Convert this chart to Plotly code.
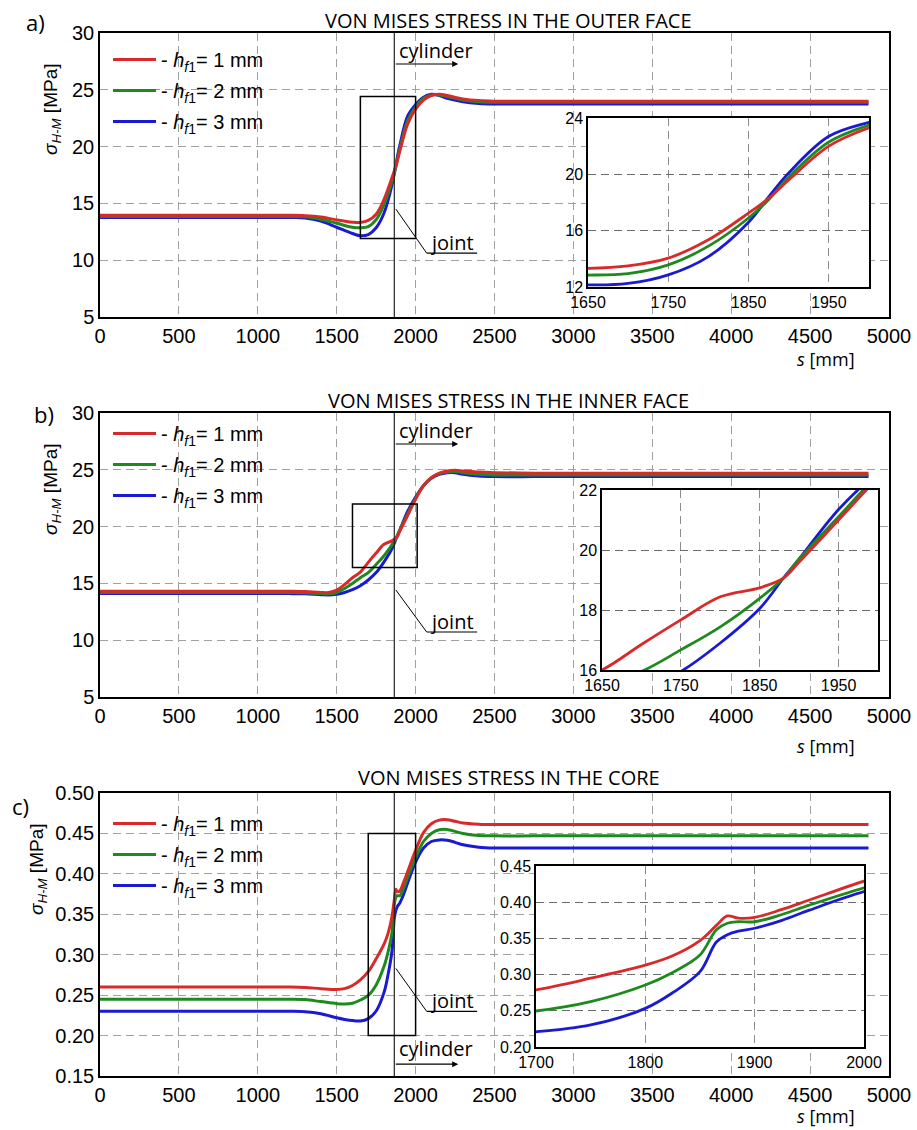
import plotly.graph_objects as go

W, H = 917, 1130

# ---------------- data ----------------
# (a) outer face
S_A = [0, 250, 500, 750, 1000, 1200, 1300, 1400, 1500, 1600, 1650, 1700, 1750, 1800,
       1850, 1875, 1900, 1950, 2000, 2050, 2100, 2150, 2200, 2300, 2400, 2500, 2750,
       3000, 3500, 4000, 4500, 4870]
A_H1 = [13.95, 13.95, 13.95, 13.95, 13.95, 13.95, 13.92, 13.8, 13.55, 13.35, 13.32, 13.5,
        14.05, 15.35, 17.25, 18.3, 19.6, 22.0, 23.3, 24.1, 24.5, 24.6, 24.5, 24.2, 24.05,
        24.0, 24.0, 24.0, 24.0, 24.0, 24.0, 24.0]
A_H2 = [13.85, 13.85, 13.85, 13.85, 13.85, 13.85, 13.82, 13.6, 13.25, 12.9, 12.85, 12.95,
        13.57, 14.9, 16.9, 18.2, 19.8, 22.3, 23.5, 24.25, 24.55, 24.55, 24.4, 24.1, 23.95,
        23.9, 23.9, 23.9, 23.9, 23.9, 23.9, 23.9]
A_H3 = [13.75, 13.75, 13.75, 13.75, 13.75, 13.75, 13.72, 13.45, 12.9, 12.35, 12.15, 12.25,
        12.86, 14.16, 16.6, 18.4, 20.1, 22.7, 23.7, 24.35, 24.6, 24.5, 24.25, 23.95, 23.8,
        23.75, 23.75, 23.75, 23.75, 23.75, 23.75, 23.75]

# (b) inner face
S_B = [0, 250, 500, 750, 1000, 1200, 1300, 1400, 1450, 1500, 1550, 1600, 1650, 1700, 1750,
       1800, 1850, 1880, 1900, 1950, 2000, 2050, 2100, 2150, 2200, 2250, 2300, 2400, 2500,
       2750, 3000, 3500, 4000, 4500, 4870]
B_H1 = [14.3, 14.3, 14.3, 14.3, 14.3, 14.3, 14.28, 14.2, 14.2, 14.4, 14.9, 15.5, 16.0, 16.85,
        17.67, 18.44, 18.74, 19.06, 19.6, 21.0, 22.4, 23.6, 24.3, 24.7, 24.9, 24.95, 24.9,
        24.8, 24.75, 24.7, 24.7, 24.7, 24.7, 24.7, 24.7]
B_H2 = [14.2, 14.2, 14.2, 14.2, 14.2, 14.2, 14.18, 14.1, 14.08, 14.2, 14.55, 15.0, 15.5, 15.95,
        16.67, 17.44, 18.39, 19.06, 19.7, 21.11, 22.5, 23.6, 24.3, 24.65, 24.8, 24.85, 24.75,
        24.6, 24.55, 24.55, 24.55, 24.55, 24.55, 24.55, 24.55]
B_H3 = [14.1, 14.1, 14.1, 14.1, 14.1, 14.1, 14.08, 14.0, 13.98, 14.05, 14.2, 14.45, 14.8, 15.3,
        15.95, 16.9, 18.05, 19.06, 19.7, 21.35, 22.6, 23.6, 24.25, 24.6, 24.75, 24.75, 24.6,
        24.45, 24.4, 24.4, 24.4, 24.4, 24.4, 24.4, 24.4]

# (c) core
S_C = [0, 250, 500, 750, 1000, 1200, 1300, 1400, 1500, 1550, 1600, 1650, 1700, 1750, 1800,
       1825, 1850, 1865, 1875, 1885, 1900, 1925, 1950, 2000, 2050, 2100, 2150, 2200, 2250,
       2300, 2400, 2500, 2750, 3000, 3500, 4000, 4500, 4870]
C_H1 = [0.26, 0.26, 0.26, 0.26, 0.26, 0.26, 0.2595, 0.258, 0.257, 0.258, 0.262, 0.269, 0.279,
        0.295, 0.313, 0.326, 0.347, 0.368, 0.381, 0.378, 0.379, 0.39, 0.403, 0.429, 0.451,
        0.462, 0.4665, 0.467, 0.465, 0.463, 0.4615, 0.461, 0.461, 0.461, 0.461, 0.461, 0.461,
        0.461]
C_H2 = [0.245, 0.245, 0.245, 0.245, 0.245, 0.245, 0.2445, 0.242, 0.2395, 0.239, 0.24, 0.244,
        0.2497, 0.2626, 0.2856, 0.303, 0.327, 0.362, 0.371, 0.373, 0.373, 0.383, 0.396, 0.42,
        0.44, 0.45, 0.4545, 0.455, 0.4525, 0.45, 0.4475, 0.447, 0.447, 0.447, 0.447, 0.447,
        0.447, 0.447]
C_H3 = [0.23, 0.23, 0.23, 0.23, 0.23, 0.23, 0.2295, 0.227, 0.222, 0.22, 0.2185, 0.218, 0.221,
        0.2304, 0.2534, 0.275, 0.304, 0.345, 0.355, 0.36, 0.364, 0.375, 0.389, 0.4146, 0.432,
        0.44, 0.442, 0.4415, 0.439, 0.436, 0.433, 0.432, 0.432, 0.432, 0.432, 0.432, 0.432,
        0.432]

SERIES_NAMES = ["1 mm", "2 mm", "3 mm"]
TITLES = ["VON MISES STRESS IN THE OUTER FACE", "VON MISES STRESS IN THE INNER FACE",
          "VON MISES STRESS IN THE CORE"]
PANEL_LABELS = ["a)", "b)", "c)"]

# zoom windows (inset ranges) and framed regions on the main plots
INSET_X = [[1650, 2000], [1650, 2000], [1700, 2000]]
INSET_Y = [[12, 24], [16, 22], [0.20, 0.45]]
INSET_XTICKS = [[1650, 1750, 1850, 1950], [1650, 1750, 1850, 1950], [1700, 1800, 1900, 2000]]
INSET_YTICKS = [[12, 16, 20, 24], [16, 18, 20, 22], [0.20, 0.25, 0.30, 0.35, 0.40, 0.45]]
FRAME_X = [[1650, 2000], [1600, 2010], [1700, 2000]]
FRAME_Y = [[11.9, 24.4], [16.4, 22.0], [0.20, 0.45]]
MAIN_Y = [[5, 30], [5, 30], [0.15, 0.50]]
MAIN_DTICK = [5, 5, 0.05]

JOINT_S = 1865
CYL_ARROW_END = 2270
CYL_Y = [27.27, 27.27, 0.1646]
CYL_TXT_Y = [28.5, 28.5, 0.184]
JOINT_LEADER_Y = [[14.5, 10.63], [14.42, 10.72], [0.283, 0.230]]
JOINT_LEADER_X = [1875, 2070, 2390]

COLORS = ["#d82a2a", "#1e8a1e", "#1a1ad2"]

# ---------------- layout geometry (pixels) ----------------
MAIN_XPX = [100, 889]
MAIN_YPX = [[33, 317], [413, 697], [793, 1076]]
INSET_XPX = [[588, 869], [602, 878], [536, 864]]
INSET_YPX = [[118, 287], [490, 670], [866, 1047]]
TITLE_YPX = [20, 400, 777]
LABEL_PX = [(35, 22), (44, 414), (20, 806)]
YTITLE_PX = [(52, 110), (52, 490), (38, 870)]
SLABEL_YPX = [359, 746, 1116]
LEGEND_TOP = [40, 414, 804]


def px2x(p):
    return p / W


def px2y(p):
    return 1 - p / H


data_sets = [(S_A, [A_H1, A_H2, A_H3]), (S_B, [B_H1, B_H2, B_H3]), (S_C, [C_H1, C_H2, C_H3])]

fig = go.Figure()
TICKFONT = dict(family="Liberation Sans, Arial, sans-serif", size=20, color="black")
INSETFONT = dict(family="Liberation Sans, Arial, sans-serif", size=16, color="black")
TXTFONT = dict(family="Open Sans, Noto Sans, sans-serif", size=20, color="black")

layout = dict(width=W, height=H, autosize=False, margin=dict(l=0, r=0, t=0, b=0, pad=0),
              paper_bgcolor="white", plot_bgcolor="white", showlegend=True)
shapes = []
annotations = []

for p in range(3):
    s, ys = data_sets[p]
    mi = p + 1          # main axes index
    ii = p + 4          # inset axes index
    mx = "x" if mi == 1 else f"x{mi}"
    my = "y" if mi == 1 else f"y{mi}"
    ix, iy = f"x{ii}", f"y{ii}"
    leg = "legend" if p == 0 else f"legend{p + 1}"

    # draw blue, green, red so that red lies on top
    for k in [2, 1, 0]:
        name = "- <i>h</i><sub><i>f</i>1</sub>= " + SERIES_NAMES[k]
        fig.add_trace(go.Scatter(x=s, y=ys[k], mode="lines", name=name,
                                 line=dict(color=COLORS[k], width=3, shape="spline", smoothing=1.0),
                                 xaxis=mx, yaxis=my, legend=leg, legendgroup=f"{p}{k}",
                                 legendrank=k + 1, showlegend=True, hoverinfo="skip"))
    for k in [2, 1, 0]:
        fig.add_trace(go.Scatter(x=s, y=ys[k], mode="lines",
                                 line=dict(color=COLORS[k], width=2.8, shape="spline", smoothing=1.0),
                                 xaxis=ix, yaxis=iy, showlegend=False, hoverinfo="skip"))

    ydom = [px2y(MAIN_YPX[p][1]), px2y(MAIN_YPX[p][0])]
    xdom = [px2x(MAIN_XPX[0]), px2x(MAIN_XPX[1])]
    layout["xaxis" if mi == 1 else f"xaxis{mi}"] = dict(
        domain=xdom, range=[0, 5000], tick0=0, dtick=500, anchor=my, automargin=False,
        showgrid=True, gridcolor="#a0a0a0", griddash="8px,5px", gridwidth=1,
        showline=True, mirror=True, linecolor="black", linewidth=1.5,
        ticks="", tickfont=TICKFONT, zeroline=False)
    layout["yaxis" if mi == 1 else f"yaxis{mi}"] = dict(
        domain=ydom, range=MAIN_Y[p], tick0=MAIN_Y[p][0], dtick=MAIN_DTICK[p], anchor=mx,
        automargin=False,
        showgrid=True, gridcolor="#a0a0a0", griddash="8px,5px", gridwidth=1,
        showline=True, mirror=True, linecolor="black", linewidth=1.5,
        ticks="", tickfont=TICKFONT, zeroline=False,
        tickformat=".2f" if p == 2 else None)

    ixdom = [px2x(INSET_XPX[p][0]), px2x(INSET_XPX[p][1])]
    iydom = [px2y(INSET_YPX[p][1]), px2y(INSET_YPX[p][0])]
    layout[f"xaxis{ii}"] = dict(
        domain=ixdom, range=INSET_X[p], tickvals=INSET_XTICKS[p], anchor=iy, automargin=False,
        showgrid=True, gridcolor="#8c8c8c", griddash="8px,5px", gridwidth=1,
        showline=True, mirror=True, linecolor="black", linewidth=1.5,
        ticks="", tickfont=INSETFONT, zeroline=False)
    layout[f"yaxis{ii}"] = dict(
        domain=iydom, range=INSET_Y[p], tickvals=INSET_YTICKS[p], anchor=ix, automargin=False,
        showgrid=True, gridcolor="#6a6a6a", griddash="8px,5px", gridwidth=1,
        showline=True, mirror=True, linecolor="black", linewidth=1.5,
        ticks="", tickfont=INSETFONT, zeroline=False,
        tickformat=".2f" if p == 2 else None)

    # white cover under the inset (hides main grid, drawn between grid and traces)
    def dom2data(d, dom, rng):
        return rng[0] + (d - dom[0]) / (dom[1] - dom[0]) * (rng[1] - rng[0])
    shapes.append(dict(type="rect", xref=mx, yref=my, layer="between",
                       x0=dom2data(ixdom[0], xdom, [0, 5000]), x1=dom2data(ixdom[1], xdom, [0, 5000]),
                       y0=dom2data(iydom[0], ydom, MAIN_Y[p]), y1=dom2data(iydom[1], ydom, MAIN_Y[p]),
                       fillcolor="white", line=dict(width=0)))
    # joint vertical line
    shapes.append(dict(type="line", xref=mx, yref=f"{my} domain", x0=JOINT_S, x1=JOINT_S,
                       y0=0, y1=1, line=dict(color="#222", width=1.2)))
    # framed zoom region
    shapes.append(dict(type="rect", xref=mx, yref=my, x0=FRAME_X[p][0], x1=FRAME_X[p][1],
                       y0=FRAME_Y[p][0], y1=FRAME_Y[p][1], line=dict(color="black", width=1.5)))
    # joint leader + underline
    shapes.append(dict(type="line", xref=mx, yref=my, x0=JOINT_LEADER_X[0], y0=JOINT_LEADER_Y[p][0],
                       x1=JOINT_LEADER_X[1], y1=JOINT_LEADER_Y[p][1], line=dict(color="black", width=1)))
    shapes.append(dict(type="line", xref=mx, yref=my, x0=JOINT_LEADER_X[1], y0=JOINT_LEADER_Y[p][1],
                       x1=JOINT_LEADER_X[2], y1=JOINT_LEADER_Y[p][1], line=dict(color="black", width=1.2)))

    annotations.append(dict(text="joint", xref=mx, yref=my, x=(JOINT_LEADER_X[1] + JOINT_LEADER_X[2]) / 2,
                            y=JOINT_LEADER_Y[p][1], xanchor="center", yanchor="bottom", yshift=-5,
                            showarrow=False, font=TXTFONT))
    annotations.append(dict(text="cylinder", xref=mx, yref=my, x=JOINT_S + 20, y=CYL_TXT_Y[p],
                            xanchor="left", yanchor="middle", showarrow=False, font=TXTFONT))
    annotations.append(dict(text="", xref=mx, yref=my, x=CYL_ARROW_END, y=CYL_Y[p],
                            axref=mx, ayref=my, ax=JOINT_S, ay=CYL_Y[p], showarrow=True,
                            arrowhead=2, arrowsize=1, arrowwidth=1.2, arrowcolor="black"))
    annotations.append(dict(text=TITLES[p], xref="paper", yref="paper", x=px2x(509),
                            y=px2y(TITLE_YPX[p]), xanchor="center", yanchor="middle",
                            showarrow=False, font=TXTFONT))
    annotations.append(dict(text=PANEL_LABELS[p], xref="paper", yref="paper", x=px2x(LABEL_PX[p][0]),
                            y=px2y(LABEL_PX[p][1]), xanchor="center", yanchor="middle",
                            showarrow=False, font=dict(family="Open Sans, sans-serif", size=22, color="black")))
    annotations.append(dict(text="<i>σ</i><sub><i>H-M</i></sub> [MPa]", xref="paper", yref="paper",
                            x=px2x(YTITLE_PX[p][0]), y=px2y(YTITLE_PX[p][1]), textangle=-90,
                            xanchor="center", yanchor="middle", showarrow=False,
                            font=dict(family="Liberation Sans, Arial, sans-serif", size=19, color="black")))
    annotations.append(dict(text="<i>s</i> [mm]", xref="paper", yref="paper", x=px2x(826),
                            y=px2y(SLABEL_YPX[p]), xanchor="center", yanchor="middle",
                            showarrow=False, font=dict(family="Open Sans, sans-serif", size=18, color="black")))

    layout[leg] = dict(x=px2x(108), y=px2y(LEGEND_TOP[p]), xanchor="left", yanchor="top",
                       bgcolor="rgba(0,0,0,0)", borderwidth=0, traceorder="grouped",
                       tracegroupgap=2, itemwidth=43,
                       font=dict(family="Liberation Sans, Arial, sans-serif", size=20, color="black"))

layout["shapes"] = shapes
layout["annotations"] = annotations
fig.update_layout(**layout)
fig.write_html("out.html", config={"displayModeBar": False},
               post_script="document.body.style.margin='0px';")
